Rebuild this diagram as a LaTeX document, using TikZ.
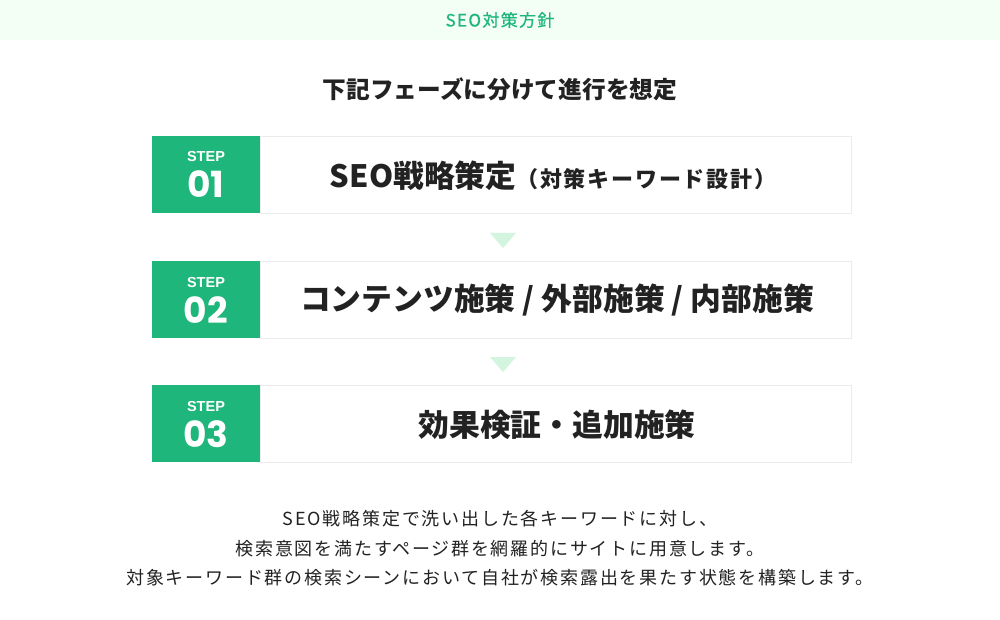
\documentclass[tikz,border=0pt]{standalone}
\usepackage{fontspec}
\setmainfont{Noto Sans CJK JP}
\newfontfamily\stepf{Poppins}
\newfontfamily\labf{Liberation Sans}
\definecolor{brand}{HTML}{1FB67B}
\definecolor{hdrbg}{HTML}{F3FEF5}
\definecolor{arrowc}{HTML}{D3F5DF}
\definecolor{boxline}{HTML}{EBEBEB}
\definecolor{ink}{HTML}{222222}
\tikzset{
  greenbox/.style={fill=brand, minimum width=108pt, minimum height=77pt, inner sep=0pt, anchor=north west},
  whitebox/.style={fill=white, draw=boxline, line width=0.8pt, minimum width=591pt, minimum height=77pt, inner sep=0pt, anchor=north west},
  steplab/.style={text=white, inner sep=0pt, anchor=base, font=\labf\bfseries\fontsize{14.5}{16}\selectfont},
  stepnum/.style={text=white, inner sep=0pt, anchor=base, font=\stepf\bfseries\fontsize{36}{40}\selectfont},
  maintext/.style={text=ink, inner sep=0pt, font=\bfseries\fontsize{30.8}{34}\selectfont},
  bodytext/.style={text=ink, inner sep=0pt, font=\fontsize{18}{22}\selectfont\addfontfeature{LetterSpace=10}},
  downarrow/.style={fill=arrowc},
}
\begin{document}
\begin{tikzpicture}[x=1pt,y=-1pt]
\useasboundingbox (0,0) rectangle (1000,620);
\fill[white] (0,0) rectangle (1000,620);
\fill[hdrbg] (0,0) rectangle (1000,40);
\node[text=brand, inner sep=0pt, font=\fontsize{17}{20}\selectfont\addfontfeature{LetterSpace=8,FakeBold=0.6}] (title) at (500,20) {SEO対策方針};
\node[text=ink, inner sep=0pt, font=\bfseries\fontsize{23.7}{26}\selectfont] (intro) at (500,89) {下記フェーズに分けて進行を想定};

% step 1
\node[greenbox] (g1) at (152,136) {};
\node[whitebox] (w1) at (260,136) {};
\node[steplab] (s1) at (206,162) {STEP};
\node[stepnum] (n1) at (206,198) {01};
\node[text=ink, inner sep=0pt] (t1) at (553,176) {{\bfseries\fontsize{30.8}{34}\selectfont SEO戦略策定}{\bfseries\fontsize{22}{24}\selectfont\addfontfeature{LetterSpace=8}（対策キーワード設計）}};

% step 2
\node[greenbox] (g2) at (152,261) {};
\node[whitebox] (w2) at (260,261) {};
\node[steplab] (s2) at (206,287) {STEP};
\node[stepnum] (n2) at (206,323) {02};
\node[maintext] (t2) at (557,300) {コンテンツ施策 / 外部施策 / 内部施策};

% step 3
\node[greenbox] (g3) at (152,385) {};
\node[whitebox] (w3) at (260,385) {};
\node[steplab] (s3) at (206,411) {STEP};
\node[stepnum] (n3) at (206,447) {03};
\node[maintext] (t3) at (557,425) {効果検証・追加施策};

% arrows
\coordinate (a1) at (503,233);
\coordinate (a2) at (503,357);
\fill[downarrow] ([xshift=-13pt]a1) -- ([xshift=13pt]a1) -- ([yshift=-15pt]a1) -- cycle;
\fill[downarrow] ([xshift=-13pt]a2) -- ([xshift=13pt]a2) -- ([yshift=-15pt]a2) -- cycle;

% bottom text
\node[bodytext] (b1) at (500,519) {SEO戦略策定で洗い出した各キーワードに対し、};
\node[bodytext] (b2) at (500,549) {検索意図を満たすページ群を網羅的にサイトに用意します。};
\node[bodytext] (b3) at (500,578) {対象キーワード群の検索シーンにおいて自社が検索露出を果たす状態を構築します。};
\end{tikzpicture}
\end{document}
